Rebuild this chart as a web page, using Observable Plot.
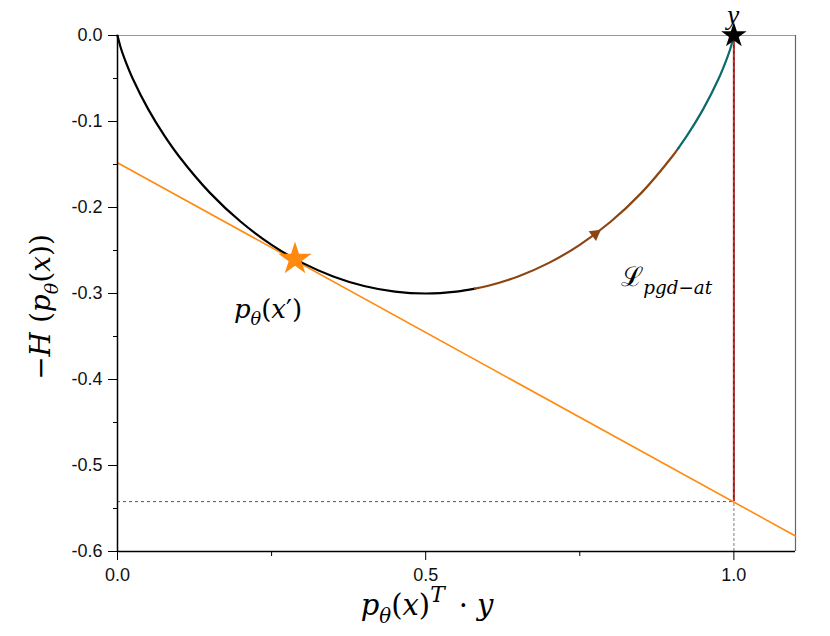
<!DOCTYPE html>
<html>
<head>
<meta charset="utf-8">
<script src="https://cdn.jsdelivr.net/npm/d3@7"></script>
<script src="https://cdn.jsdelivr.net/npm/@observablehq/plot@0.6"></script>
<style>
  html, body { margin: 0; padding: 0; background: #fff; }
  #chart svg { display: block; }
</style>
</head>
<body>
<div id="chart"></div>
<script>
// ---- data ----
const curveX = [0, 0.005, 0.01, 0.025, 0.05, 0.075, 0.1, 0.15, 0.2, 0.25, 0.3, 0.35, 0.4, 0.45, 0.5, 0.55, 0.58, 0.6, 0.65, 0.7, 0.75, 0.8, 0.85, 0.9, 0.91, 0.925, 0.95, 0.975, 0.99, 0.995, 1];
const curveY = [0, -0.0136, -0.0242, -0.0506, -0.0859, -0.1153, -0.1407, -0.1830, -0.2166, -0.2434, -0.2644, -0.2802, -0.2913, -0.2978, -0.3000, -0.2978, -0.2944, -0.2913, -0.2802, -0.2644, -0.2434, -0.2166, -0.1830, -0.1407, -0.1309, -0.1153, -0.0859, -0.0506, -0.0242, -0.0136, 0];
const segBreaks = [0.58, 0.91];           // black | brown | teal
const tangentX = [0, 1.1];
const tangentY = [-0.148, -0.582];
const starOrange = [{x: 0.288, y: -0.26}];
const starBlack = [{x: 1, y: 0}];
const arrowPt = [{x: 0.775, y: -0.2308}];
const lossX = [1];
const lossY = [-0.542, 0];
const guideY = [-0.542];
const yTicks = [0, -0.1, -0.2, -0.3, -0.4, -0.5, -0.6];
const yMinor = [-0.05, -0.15, -0.25, -0.35, -0.45, -0.55];
const xTicks = [0, 0.5, 1];
const xMinor = [0.25, 0.75];

const curve = curveX.map((x, i) => ({x, y: curveY[i]}));
const seg1 = curve.filter(d => d.x <= segBreaks[0]);
const seg2 = curve.filter(d => d.x >= segBreaks[0] && d.x <= segBreaks[1]);
const seg3 = curve.filter(d => d.x >= segBreaks[1]);
const tangent = tangentX.map((x, i) => ({x, y: tangentY[i]}));

const ORANGE = "#ff8a0f", BROWN = "#8b4513", TEAL = "#0b6a6a";
const fmt = d => d.toFixed(1);
const SANS = "'Liberation Sans', Arial, sans-serif";

const plot = Plot.plot({
  width: 830,
  height: 636,
  marginLeft: 117,
  marginRight: 35,
  marginTop: 35,
  marginBottom: 85,
  style: {fontFamily: SANS, fontSize: "18px", color: "#000", background: "#fff"},
  x: {domain: [0, 1.1]},
  y: {domain: [-0.6, 0]},
  marks: [
    // frame
    Plot.ruleY([0], {stroke: "#9a9a9a", strokeWidth: 1.2}),
    Plot.ruleX([1.1], {stroke: "#666", strokeWidth: 1.2}),
    // guides
    Plot.ruleY(guideY, {x1: 0, x2: 1, stroke: "#555", strokeWidth: 1, strokeDasharray: "3,3"}),
    Plot.ruleX(lossX, {y1: -0.6, y2: guideY[0], stroke: "#aaa", strokeWidth: 1.5, strokeDasharray: "3,2"}),
    // loss vertical
    Plot.ruleX(lossX, {y1: lossY[0], y2: lossY[1], stroke: "#8b1a1a", strokeWidth: 2}),
    Plot.ruleX(lossX, {y1: lossY[0], y2: lossY[1], stroke: "#e23b3b", strokeWidth: 1.2, strokeDasharray: "3,3"}),
    // tangent
    Plot.line(tangent, {x: "x", y: "y", stroke: ORANGE, strokeWidth: 1.6}),
    // curve
    Plot.line(seg1, {x: "x", y: "y", stroke: "#000", strokeWidth: 2.2, curve: "catmull-rom"}),
    Plot.line(seg2, {x: "x", y: "y", stroke: BROWN, strokeWidth: 2.2, curve: "catmull-rom"}),
    Plot.line(seg3, {x: "x", y: "y", stroke: TEAL, strokeWidth: 2.2, curve: "catmull-rom"}),
    Plot.dot(arrowPt, {x: "x", y: "y", symbol: "triangle", r: 4.6, fill: BROWN, stroke: null, rotate: 53}),
    // stars
    Plot.dot(starOrange, {x: "x", y: "y", symbol: "star", r: 10.5, fill: ORANGE, stroke: null}),
    Plot.dot(starBlack, {x: "x", y: "y", symbol: "star", r: 8, fill: "#000", stroke: null}),
    // axes
    Plot.axisY({ticks: yTicks, tickSize: 9, tickPadding: 6, tickFormat: fmt, label: null, fill: "#111"}),
    Plot.axisY({ticks: yMinor, tickSize: 4, tickFormat: () => "", label: null}),
    Plot.axisX({ticks: xTicks, tickSize: 9, tickPadding: 8, tickFormat: fmt, label: null, fill: "#111"}),
    Plot.axisX({ticks: xMinor, tickSize: 5, tickFormat: () => "", label: null}),
    Plot.ruleX([0], {stroke: "#000", strokeWidth: 1.5}),
    Plot.ruleY([-0.6], {stroke: "#000", strokeWidth: 1.5})
  ]
});
document.getElementById("chart").appendChild(plot);

// tick label font (all texts present so far are tick labels)
const svg = d3.select(plot);
svg.selectAll("text")
  .attr("font-size", 18)
  .style("font-size", "18px")
  .style("font-family", SANS);

// ---- math-style text labels ----
const sx = plot.scale("x"), sy = plot.scale("y");
const SERIF = "'DejaVu Serif', 'Liberation Serif', serif";
function mathText(x, y, parts, size, opts = {}) {
  const t = svg.append("text")
    .attr("x", x).attr("y", y)
    .attr("text-anchor", opts.anchor || "middle")
    .attr("font-family", opts.font || SERIF)
    .style("font-family", opts.font || SERIF)
    .attr("font-size", size)
    .style("font-size", size + "px")
    .attr("fill", "#000");
  if (opts.rotate) t.attr("transform", `rotate(${opts.rotate},${x},${y})`);
  let shift = 0;
  for (const p of parts) {
    let target = 0, fs = size;
    if (p.sub) { target = size * 0.28; fs = size * 0.68; }
    if (p.sup) { target = -size * 0.45; fs = size * (p.scale || 0.68); }
    const ts = t.append("tspan").text(p.t)
      .attr("font-size", fs)
      .style("font-size", fs + "px")
      .attr("font-style", p.i ? "italic" : "normal");
    if (p.dx) ts.attr("dx", p.dx);
    if (target !== shift) { ts.attr("dy", target - shift); shift = target; }
  }
  return t;
}

// axis labels
mathText(50, 307, [
  {t: "\u2212"}, {t: "H", i: true}, {t: " ("}, {t: "p", i: true}, {t: "\u03B8", i: true, sub: true},
  {t: "("}, {t: "x", i: true}, {t: "))"}
], 28, {rotate: -90});
mathText(427, 615, [
  {t: "p", i: true}, {t: "\u03B8", i: true, sub: true}, {t: "("}, {t: "x", i: true}, {t: ")"},
  {t: "T", i: true, sup: true, scale: 0.75}, {t: "\u00B7", dx: 14}, {t: "y", i: true, dx: 9}
], 29);

// annotations anchored to data positions
mathText(sx.apply(starBlack[0].x), sy.apply(starBlack[0].y) - 11, [{t: "y", i: true}], 27,
  {font: "'Liberation Serif', serif"});
mathText(sx.apply(0.245), sy.apply(-0.329), [
  {t: "p", i: true}, {t: "\u03B8", i: true, sub: true}, {t: "("}, {t: "x", i: true}, {t: "\u2032"}, {t: ")"}
], 26);
mathText(sx.apply(0.818), sy.apply(-0.292), [
  {t: "\u2112"}, {t: "pgd\u2212at", i: true, sub: true}
], 27, {anchor: "start"});
</script>
</body>
</html>
